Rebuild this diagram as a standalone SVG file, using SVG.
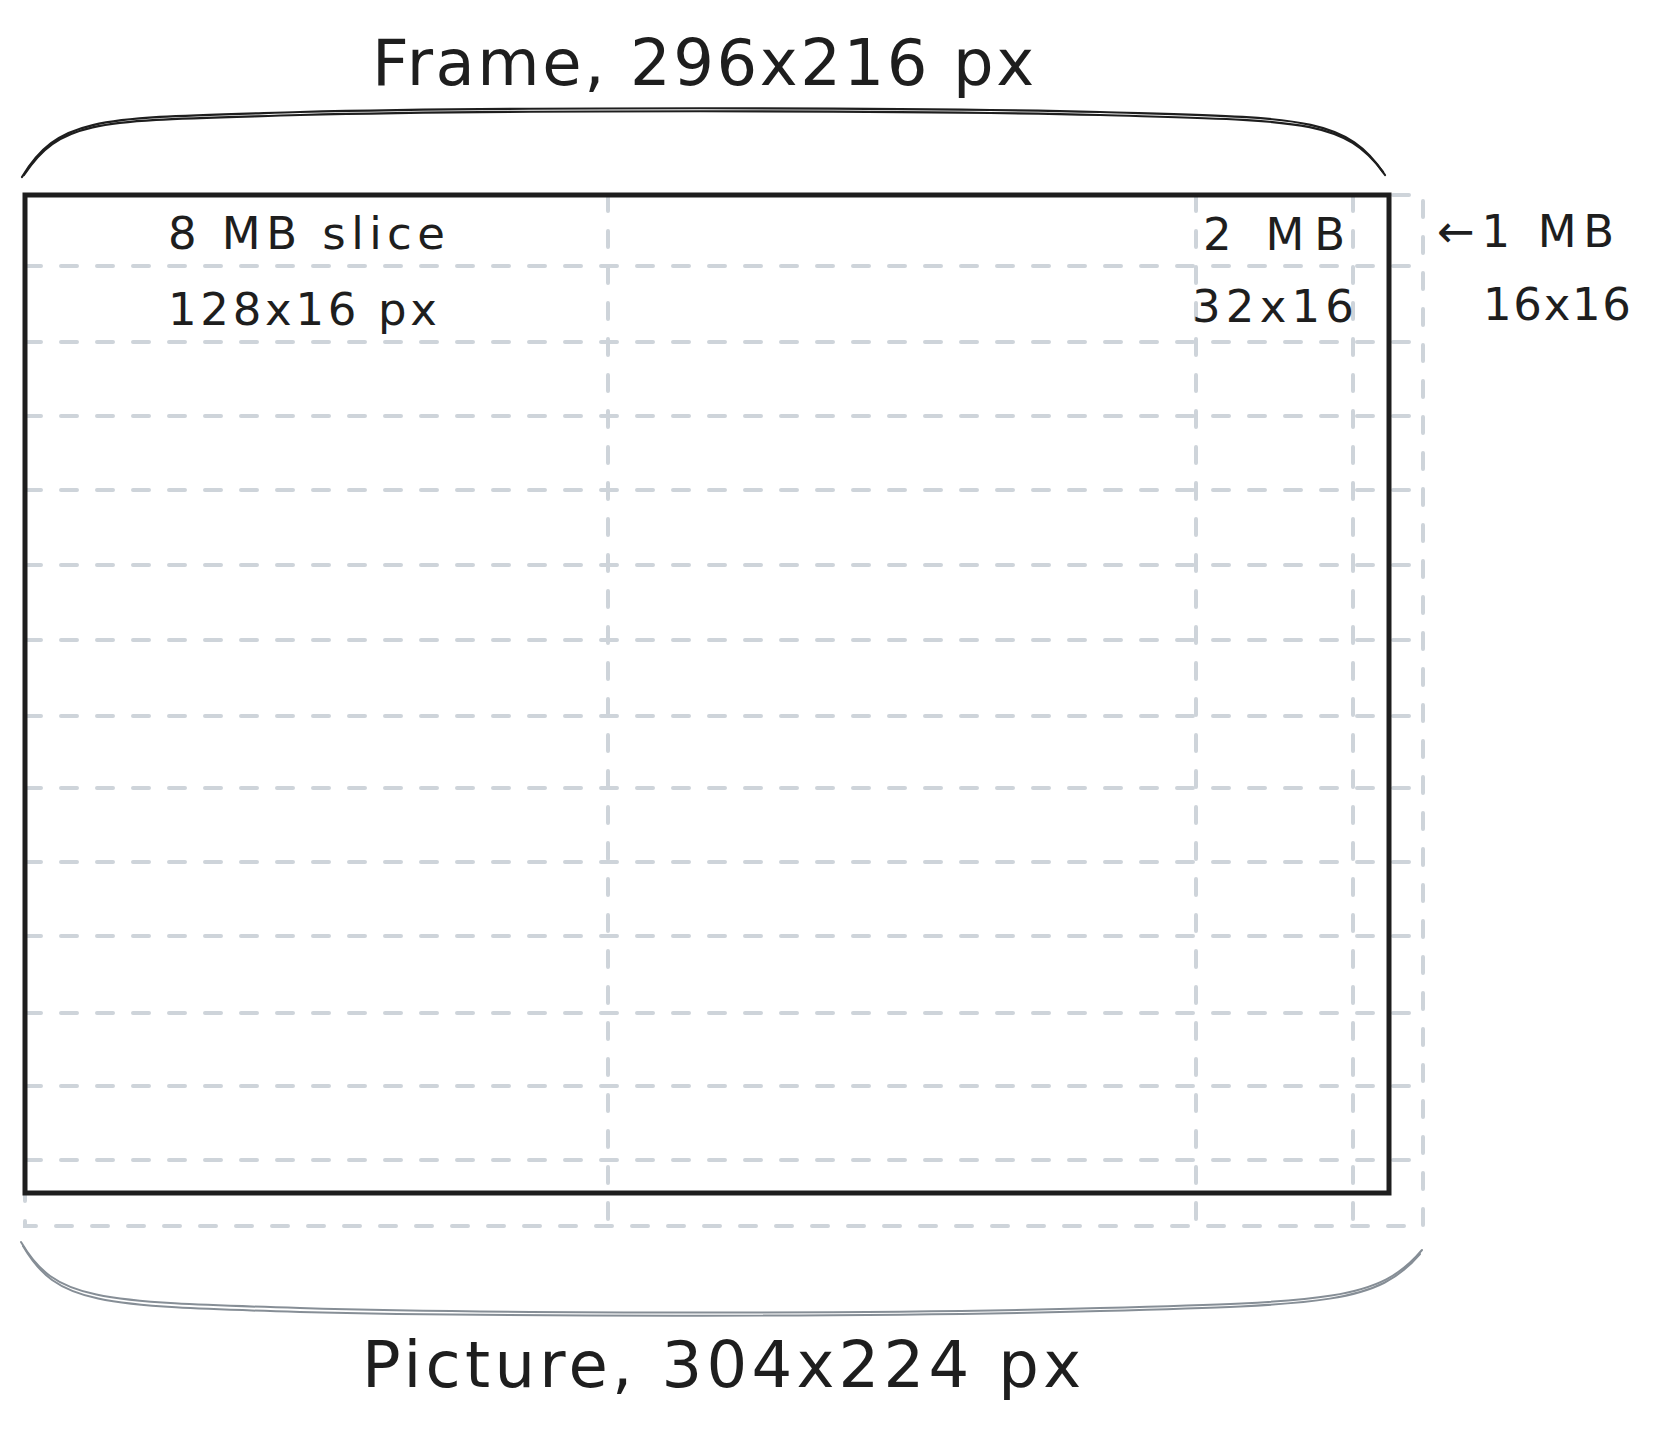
<svg xmlns="http://www.w3.org/2000/svg" width="1657" height="1432" viewBox="0 0 1657 1432">
<defs>
<style>
.grid{stroke:#ced4da;stroke-width:4;stroke-dasharray:16 20;stroke-linecap:round;fill:none}
.frame{stroke:#1e1e1e;stroke-width:5;fill:none}
.brace{stroke:#1e1e1e;stroke-width:2.2;fill:none;stroke-linecap:round}
.brace2{stroke:#868e96;stroke-width:2;fill:none;stroke-linecap:round}
.big{font-family:"DejaVu Sans","Liberation Sans",sans-serif;font-size:64px;fill:#1e1e1e}
.lbl{font-family:"DejaVu Sans","Liberation Sans",sans-serif;font-size:45px;fill:#1e1e1e}
</style>
</defs>
<rect width="1657" height="1432" fill="#ffffff"/>
<g id="connectors">
<g id="grid">
<rect class="grid" x="25" y="195" width="1398" height="1031"/>
<line class="grid" x1="25" y1="266" x2="1423" y2="266"/>
<line class="grid" x1="25" y1="342" x2="1423" y2="342"/>
<line class="grid" x1="25" y1="416" x2="1423" y2="416"/>
<line class="grid" x1="25" y1="490" x2="1423" y2="490"/>
<line class="grid" x1="25" y1="565" x2="1423" y2="565"/>
<line class="grid" x1="25" y1="640" x2="1423" y2="640"/>
<line class="grid" x1="25" y1="716" x2="1423" y2="716"/>
<line class="grid" x1="25" y1="788" x2="1423" y2="788"/>
<line class="grid" x1="25" y1="862" x2="1423" y2="862"/>
<line class="grid" x1="25" y1="936" x2="1423" y2="936"/>
<line class="grid" x1="25" y1="1013" x2="1423" y2="1013"/>
<line class="grid" x1="25" y1="1086" x2="1423" y2="1086"/>
<line class="grid" x1="25" y1="1160" x2="1423" y2="1160"/>
<line class="grid" x1="608" y1="195" x2="608" y2="1226"/>
<line class="grid" x1="1196" y1="195" x2="1196" y2="1226"/>
<line class="grid" x1="1353" y1="195" x2="1353" y2="1226"/>
</g>
<g id="braces">
<path class="brace" d="M22 177 C60 115 100 118 300 112 C500 107 900 107 1100 112 C1300 118 1345 115 1385 175"/>
<path class="brace" d="M24 175 C62 117 102 121 300 115 C500 110 900 110 1100 115 C1298 121 1343 118 1383 172"/>
<path class="brace2" d="M21 1242 C55 1300 95 1302 300 1308 C500 1314 900 1314 1100 1308 C1330 1302 1380 1300 1422 1250"/>
<path class="brace2" d="M23 1246 C57 1304 97 1306 300 1312 C500 1317 900 1317 1100 1311 C1328 1305 1378 1303 1420 1254"/>
</g>
</g>
<g id="frame-node">
<rect class="frame" x="25" y="195" width="1364" height="998"/>
</g>
<g id="frame-label">
<text class="big" x="372" y="85" textLength="662">Frame, 296x216 px</text>
</g>
<g id="picture-label">
<text class="big" x="362" y="1387" textLength="719">Picture, 304x224 px</text>
</g>
<g id="slice-label">
<text class="lbl" x="168" y="249" textLength="277">8 MB slice</text>
<text class="lbl" x="168" y="325" textLength="269">128x16 px</text>
</g>
<g id="mb2-label">
<text class="lbl" x="1203" y="250" textLength="142">2 MB</text>
<text class="lbl" x="1192" y="322" textLength="162">32x16</text>
</g>
<g id="mb1-label">
<text class="lbl" x="1437" y="247" textLength="177">←1 MB</text>
<text class="lbl" x="1483" y="320" textLength="148">16x16</text>
</g>
</svg>
